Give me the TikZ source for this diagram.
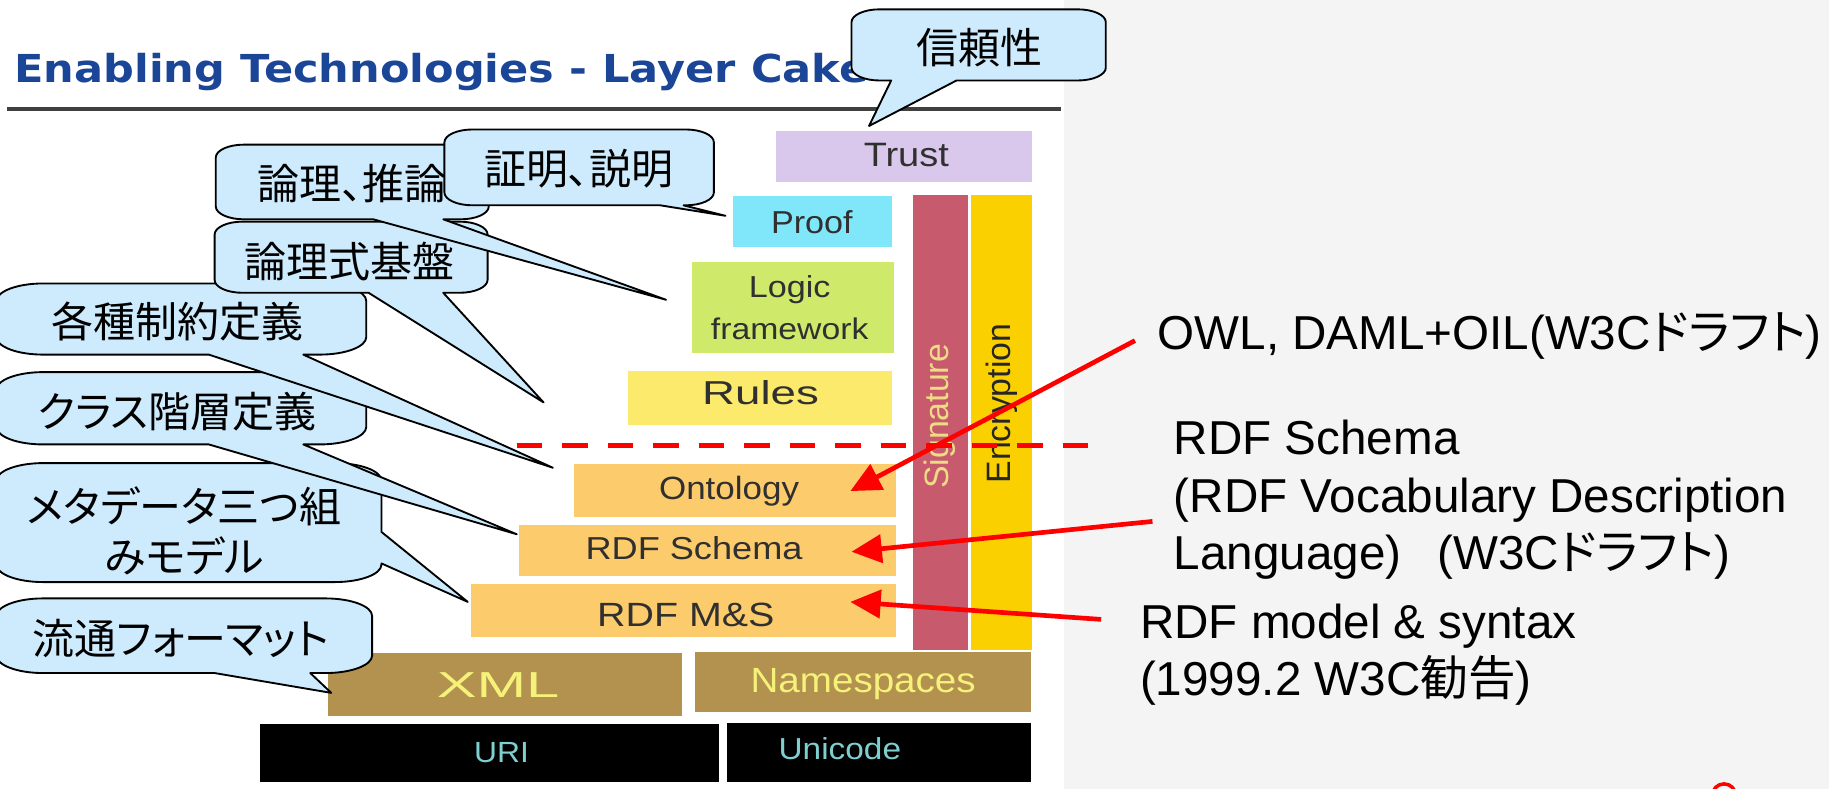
\documentclass[tikz,border=0pt]{standalone}
\usepackage{fontspec}
\usepackage{graphicx}
\setmainfont{Liberation Sans}
\newfontfamily\jp[RawFeature={+palt}]{Noto Sans CJK JP}
\newfontfamily\titlef{DejaVu Sans}
\usetikzlibrary{arrows.meta,fit}
\newcommand\fs[1]{\fontsize{#1}{#1}\selectfont}
\newcommand\rs[2]{\resizebox{#1}{\height}{#2}}
\definecolor{calloutc}{HTML}{CDEBFC}
\definecolor{titleblue}{HTML}{1B4597}
\definecolor{rulec}{HTML}{404040}
\definecolor{bgr}{HTML}{F4F4F4}
\definecolor{trustc}{HTML}{D9C8EC}
\definecolor{proofc}{HTML}{7FE7F9}
\definecolor{logicc}{HTML}{CFE96B}
\definecolor{rulesc}{HTML}{FBEA6B}
\definecolor{ontoc}{HTML}{FCCB6C}
\definecolor{sigc}{HTML}{C75A6D}
\definecolor{sigtext}{HTML}{EEDB86}
\definecolor{encc}{HTML}{FBD000}
\definecolor{xmlc}{HTML}{B3914F}
\definecolor{xmltext}{HTML}{F5F27A}
\definecolor{uritext}{HTML}{7ECFD0}
\definecolor{caketext}{HTML}{303030}
\def\crx{24}\def\cry{11}
% callout with wedge on the bottom edge: L T R B b1 b2 tipx tipy
\newcommand\calB[8]{%
  \path[callout] (#1+\crx,#2) -- (#3-\crx,#2)
    arc[start angle=-90,end angle=0,x radius=\crx,y radius=\cry] -- (#3,#4-\cry)
    arc[start angle=0,end angle=90,x radius=\crx,y radius=\cry] -- (#6,#4) -- (#7,#8) -- (#5,#4) -- (#1+\crx,#4)
    arc[start angle=90,end angle=180,x radius=\crx,y radius=\cry] -- (#1,#2+\cry)
    arc[start angle=180,end angle=270,x radius=\crx,y radius=\cry] -- cycle;}
% callout with wedge on the right edge: L T R B b1y b2y tipx tipy
\newcommand\calR[8]{%
  \path[callout] (#1+\crx,#2) -- (#3-\crx,#2)
    arc[start angle=-90,end angle=0,x radius=\crx,y radius=\cry] -- (#3,#5) -- (#7,#8) -- (#3,#6) -- (#3,#4-\cry)
    arc[start angle=0,end angle=90,x radius=\crx,y radius=\cry] -- (#1+\crx,#4)
    arc[start angle=90,end angle=180,x radius=\crx,y radius=\cry] -- (#1,#2+\cry)
    arc[start angle=180,end angle=270,x radius=\crx,y radius=\cry] -- cycle;}
\begin{document}
\begin{tikzpicture}[x=0.5pt,y=-0.5pt,
  callout/.style={fill=calloutc, draw=black, line width=0.8pt, line join=round},
  ctextjp/.style={inner sep=0pt, font=\jp\fs{18pt}, text=black},
  cake/.style={inner sep=0pt, outer sep=0pt, draw=none},
  ctext/.style={inner sep=0pt, anchor=base, text=caketext},
  rtext/.style={inner sep=0pt, anchor=base west, font=\fs{20.4pt}, text=black},
  redarrow/.style={draw=red, line width=2pt, -{Triangle[length=13pt,width=12pt]}},
  reddash/.style={draw=red, line width=2pt, dash pattern=on 11pt off 8.5pt}]
\useasboundingbox (0,0) rectangle (1568,676);
\fill[white] (0,0) rectangle (1568,676);
\fill[bgr] (912,0) rectangle (1568,676);

% title and rule
\node[anchor=base west, inner sep=0pt, text=titleblue] (title) at (12,71)
  {\rs{366pt}{\titlef\bfseries\fs{16.5pt}Enabling Technologies - Layer Cake}};
\coordinate (ruleL) at (6,93.5);
\coordinate (ruleR) at (910,93.5);
\draw[line width=1.5pt, draw=rulec] (ruleL) -- (ruleR);

% layer cake
\node[cake, fill=trustc, fit={(665,112)(885,156)}] (trust) {};
\node[ctext] (trustT) at (777,143) {\rs{36.5pt}{\fs{14.5pt}Trust}};
\node[cake, fill=proofc, fit={(628,168)(765,212)}] (proof) {};
\node[ctext] (proofT) at (696,200) {\rs{35pt}{\fs{13.6pt}Proof}};
\node[cake, fill=sigc, fit={(783,167)(830,557)}] (sig) {};
\node[rotate=90, inner sep=0pt, text=sigtext] (sigT) at (806,357) {\fs{14.5pt}Signature};
\node[cake, fill=encc, fit={(832,167)(885,557)}] (enc) {};
\node[rotate=90, inner sep=0pt, text=black!85] (encT) at (859,346) {\fs{14.5pt}Encryption};
\node[cake, fill=logicc, fit={(593,225)(766,303)}] (logic) {};
\node[ctext] (logicT1) at (677,255) {\rs{35pt}{\fs{13pt}Logic}};
\node[ctext] (logicT2) at (677,291) {\rs{67.5pt}{\fs{12.8pt}framework}};
\node[cake, fill=rulesc, fit={(538,318)(765,364)}] (rules) {};
\node[ctext] (rulesT) at (652,347) {\rs{50pt}{\fs{14.2pt}Rules}};
\node[cake, fill=ontoc, fit={(492,398)(768,443)}] (onto) {};
\node[ctext] (ontoT) at (625,428) {\rs{60pt}{\fs{13.8pt}Ontology}};
\node[cake, fill=ontoc, fit={(445,450)(768,494)}] (rdfs) {};
\node[ctext] (rdfsT) at (595,480) {\rs{93pt}{\fs{13.6pt}RDF Schema}};
\node[cake, fill=ontoc, fit={(404,501)(768,546)}] (rdfms) {};
\node[ctext] (rdfmsT) at (588,537) {\rs{76pt}{\fs{14.4pt}RDF M\&S}};
\node[cake, fill=xmlc, fit={(281,560)(585,614)}] (xml) {};
\node[ctext, text=xmltext] (xmlT) at (427,598) {\rs{52.5pt}{\fs{15.5pt}XML}};
\node[cake, fill=xmlc, fit={(596,559)(884,610)}] (ns) {};
\node[ctext, text=xmltext] (nsT) at (740,594) {\rs{96.5pt}{\fs{15pt}Namespaces}};
\node[cake, fill=black, fit={(223,621)(616,670)}] (uri) {};
\node[ctext, text=uritext] (uriT) at (430,654) {\rs{23.5pt}{\fs{12.5pt}URI}};
\node[cake, fill=black, fit={(623,620)(884,670)}] (unicode) {};
\node[ctext, text=uritext] (unicodeT) at (720,651) {\rs{52.5pt}{\fs{13pt}Unicode}};

% callouts, bottom to top
\def\crx{40}\def\cry{15}
\calB{-3}{513}{319}{577}{184}{266}{284}{594}
\node[ctextjp] (ryutsu) at (155,547) {流通フォーマット};
\calR{-3}{397}{327}{499}{456}{483}{401}{516}
\node[ctextjp, align=center, font=\jp\fontsize{18pt}{21.5pt}\selectfont] (meta) at (158,455) {メタデータ三つ組\\みモデル};
\calB{-3}{319}{314}{381}{179}{260}{443}{458}
\node[ctextjp] (class) at (152,353) {クラス階層定義};
\calB{-3}{243}{314}{304}{179}{260}{474}{401}
\node[ctextjp] (seiyaku) at (152,276) {各種制約定義};
\def\crx{24}\def\cry{11}
\calB{184}{190}{418}{251}{316}{380}{466}{345}
\node[ctextjp] (ronrishiki) at (300,224) {論理式基盤};
\calB{185}{124}{419}{188}{320}{380}{571}{257}
\node[ctextjp] (ronri) at (302,157) {論理、推論};
\calB{381}{111}{612}{176}{566}{586}{622}{185}
\node[ctextjp] (shomei) at (496,145) {証明、説明};
\calB{730}{8}{948}{69}{764}{820}{745}{108}
\node[ctextjp] (shinrai) at (840,41) {信頼性};

% right-hand texts
\node[rtext] (owl) at (992,300) {OWL, DAML+OIL(W3C{\jp ドラフト})};
\node[rtext] (rdfs1) at (1006,390) {RDF Schema};
\node[rtext] (rdfs2) at (1006,439) {(RDF Vocabulary Description};
\node[rtext] (rdfs3) at (1006,488) {Language)\hspace{15.5pt}(W3C{\jp ドラフト})};
\node[rtext] (rdfm1) at (977,547) {RDF model \& syntax};
\node[rtext] (rdfm2) at (977,596) {(1999.2 W3C{\jp 勧告})};

% dashed line and arrows
\coordinate (dashL) at (443,382);
\coordinate (dashR) at (948,382);
\draw[reddash] (dashL) -- (dashR);
\coordinate (owlTail) at (973,292);
\coordinate (owlTip) at (729,421);
\draw[redarrow] (owlTail) -- (owlTip);
\coordinate (rdfsTail) at (988,447);
\coordinate (rdfsTip) at (730,473);
\draw[redarrow] (rdfsTail) -- (rdfsTip);
\coordinate (rdfmTail) at (944,531);
\coordinate (rdfmTip) at (729,516);
\draw[redarrow] (rdfmTail) -- (rdfmTip);

% page mark
\begin{scope}
\clip (0,0) rectangle (1568,676);
\coordinate (pageC) at (1478,682);
\draw[red, line width=1.5pt] (pageC) circle[radius=10];
\end{scope}
\end{tikzpicture}
\end{document}
